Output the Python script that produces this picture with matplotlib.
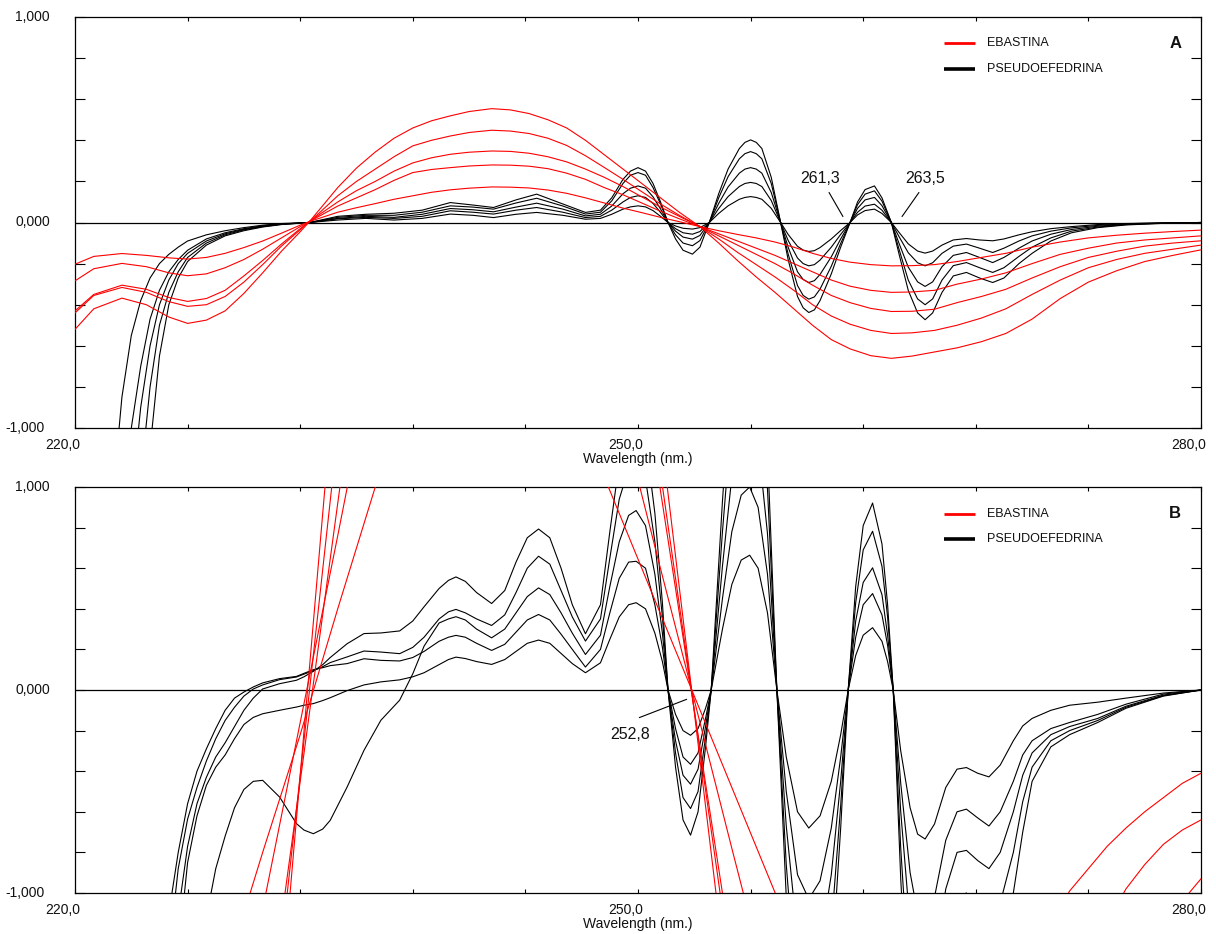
import numpy as np
import matplotlib
matplotlib.use("Agg")
import matplotlib.pyplot as plt
from matplotlib.transforms import blended_transform_factory, offset_copy

plt.rcParams.update({
    "font.family": ["Liberation Sans", "DejaVu Sans"],
    "font.size": 10,
})

RED = "#FF0000"
BLACK = "#000000"

# ── panel A : pseudoefedrina (black) ───────────────────────────────────────
WL_A_PSE = [221.5, 222.0, 222.5, 223.0, 223.5, 224.0, 224.5, 225.0, 225.5, 226.0,
            227.0, 228.0, 229.0, 230.0, 231.0, 232.5,
            234.0, 235.5, 237.0, 238.5, 240.0, 241.2, 242.3, 243.5, 244.6, 246.0, 247.2,
            248.0, 248.6, 249.2, 249.6, 250.0, 250.4, 250.8, 251.2, 251.6, 252.0,
            252.4, 252.9, 253.3, 253.8, 254.3, 254.8, 255.4, 255.7, 256.0, 256.3,
            256.6, 257.1, 257.6, 258.0, 258.5, 258.8, 259.1, 259.4, 259.7, 260.3,
            260.8, 261.3, 261.7, 262.1, 262.6, 263.0, 263.5, 263.9, 264.4, 264.9,
            265.3, 265.7, 266.2, 266.8, 267.5, 268.2, 268.9, 269.5, 270.3, 271.0,
            272.0, 273.1, 274.5, 276.0, 278.0, 280.0]

PSE_A1 = [-2.2, -1.35, -0.85, -0.55, -0.38, -0.27, -0.2, -0.155, -0.12, -0.09,
          -0.06, -0.04, -0.025, -0.013, -0.005, 0.0,
          0.03, 0.04, 0.045, 0.06, 0.097, 0.085, 0.073, 0.11, 0.138, 0.09, 0.049,
          0.06, 0.12, 0.21, 0.25, 0.267, 0.25, 0.19, 0.10, 0.0, -0.08,
          -0.135, -0.154, -0.12, 0.0, 0.14, 0.26, 0.36, 0.39, 0.402, 0.39,
          0.36, 0.22, 0.0, -0.18, -0.36, -0.415, -0.438, -0.425, -0.38, -0.25,
          -0.12, 0.0, 0.1, 0.16, 0.178, 0.12, 0.0, -0.15, -0.33, -0.44,
          -0.473, -0.44, -0.34, -0.26, -0.243, -0.27, -0.292, -0.27, -0.2, -0.15,
          -0.09, -0.05, -0.025, -0.012, -0.004, 0.0]
PSE_A2 = [-3.0, -2.2, -1.5, -1.0, -0.7, -0.47, -0.33, -0.24, -0.18, -0.135,
          -0.08, -0.05, -0.03, -0.016, -0.007, 0.0,
          0.025, 0.035, 0.035, 0.05, 0.081, 0.075, 0.065, 0.095, 0.118, 0.08, 0.041,
          0.05, 0.105, 0.19, 0.23, 0.243, 0.23, 0.17, 0.09, 0.0, -0.06,
          -0.1, -0.113, -0.088, 0.0, 0.12, 0.223, 0.31, 0.335, 0.345, 0.335,
          0.31, 0.19, 0.0, -0.153, -0.307, -0.355, -0.373, -0.362, -0.324, -0.213,
          -0.102, 0.0, 0.087, 0.138, 0.154, 0.104, 0.0, -0.127, -0.28, -0.372,
          -0.40, -0.372, -0.28, -0.21, -0.195, -0.22, -0.243, -0.22, -0.165, -0.12,
          -0.075, -0.042, -0.022, -0.01, -0.003, 0.0]
PSE_A3 = [-3.5, -2.8, -2.0, -1.35, -0.9, -0.6, -0.4, -0.28, -0.2, -0.15,
          -0.09, -0.055, -0.033, -0.018, -0.008, 0.0,
          0.02, 0.03, 0.025, 0.04, 0.068, 0.062, 0.052, 0.075, 0.094, 0.065, 0.032,
          0.04, 0.08, 0.14, 0.167, 0.178, 0.167, 0.125, 0.066, 0.0, -0.042,
          -0.071, -0.081, -0.063, 0.0, 0.093, 0.173, 0.24, 0.26, 0.267, 0.26,
          0.24, 0.146, 0.0, -0.12, -0.24, -0.277, -0.292, -0.283, -0.253, -0.167,
          -0.08, 0.0, 0.069, 0.11, 0.122, 0.082, 0.0, -0.099, -0.217, -0.289,
          -0.311, -0.289, -0.215, -0.16, -0.146, -0.17, -0.195, -0.17, -0.125, -0.09,
          -0.057, -0.034, -0.018, -0.008, -0.003, 0.0]
PSE_A4 = [-4.0, -3.3, -2.5, -1.8, -1.25, -0.8, -0.5, -0.34, -0.24, -0.17,
          -0.1, -0.06, -0.036, -0.02, -0.009, 0.0,
          0.018, 0.025, 0.02, 0.03, 0.057, 0.05, 0.041, 0.06, 0.073, 0.05, 0.024,
          0.03, 0.06, 0.1, 0.122, 0.13, 0.122, 0.093, 0.049, 0.0, -0.03,
          -0.05, -0.057, -0.044, 0.0, 0.068, 0.126, 0.175, 0.19, 0.195, 0.19,
          0.175, 0.107, 0.0, -0.087, -0.173, -0.2, -0.211, -0.205, -0.183, -0.12,
          -0.058, 0.0, 0.05, 0.08, 0.089, 0.06, 0.0, -0.067, -0.147, -0.196,
          -0.211, -0.196, -0.15, -0.115, -0.105, -0.125, -0.146, -0.125, -0.09, -0.065,
          -0.042, -0.026, -0.014, -0.006, -0.002, 0.0]
PSE_A5 = [-4.5, -3.8, -3.0, -2.3, -1.6, -1.1, -0.65, -0.4, -0.27, -0.19,
          -0.11, -0.065, -0.04, -0.022, -0.01, 0.0,
          0.012, 0.02, 0.012, 0.02, 0.041, 0.035, 0.024, 0.04, 0.049, 0.035, 0.016,
          0.02, 0.04, 0.065, 0.076, 0.081, 0.076, 0.058, 0.03, 0.0, -0.017,
          -0.028, -0.032, -0.025, 0.0, 0.044, 0.081, 0.113, 0.122, 0.126, 0.122,
          0.113, 0.069, 0.0, -0.058, -0.116, -0.134, -0.141, -0.137, -0.122, -0.08,
          -0.039, 0.0, 0.037, 0.058, 0.065, 0.044, 0.0, -0.047, -0.104, -0.139,
          -0.149, -0.139, -0.11, -0.085, -0.078, -0.085, -0.089, -0.08, -0.06, -0.045,
          -0.03, -0.02, -0.01, -0.005, -0.002, 0.0]

# ── panel A : ebastina (red) ───────────────────────────────────────────────
WL_A_EBA = [220.0, 221.0, 222.5, 223.8, 225.0, 226.0, 227.0, 228.0, 229.0, 230.0,
            231.0, 232.0, 232.5, 233.0, 234.0, 235.0, 236.0, 237.0, 238.0, 239.0,
            240.0, 241.0, 242.2, 243.2, 244.2, 245.2, 246.2, 247.2, 248.2, 249.2,
            250.2, 251.2, 252.2, 253.3, 254.3, 255.3, 256.3, 257.3, 258.3, 259.3,
            260.3, 261.3, 262.4, 263.5, 264.6, 265.8, 267.0, 268.3, 269.6, 271.0,
            272.5, 274.0, 275.5, 277.0, 278.5, 280.0]
EBA_A1 = [-0.203, -0.165, -0.151, -0.16, -0.172, -0.178, -0.17, -0.15, -0.122, -0.09,
          -0.052, -0.013, 0.005, 0.02, 0.05, 0.072, 0.092, 0.113, 0.13, 0.147,
          0.159, 0.167, 0.173, 0.172, 0.168, 0.158, 0.142, 0.12, 0.095, 0.07,
          0.048, 0.025, 0.004, -0.02, -0.04, -0.058, -0.075, -0.095, -0.12, -0.15,
          -0.175, -0.193, -0.205, -0.211, -0.21, -0.205, -0.19, -0.17, -0.15, -0.12,
          -0.095, -0.075, -0.062, -0.052, -0.044, -0.037]
EBA_A2 = [-0.284, -0.225, -0.199, -0.215, -0.245, -0.259, -0.25, -0.22, -0.18, -0.13,
          -0.075, -0.02, 0.005, 0.03, 0.08, 0.12, 0.16, 0.205, 0.243, 0.258,
          0.267, 0.275, 0.28, 0.279, 0.274, 0.262, 0.24, 0.21, 0.17, 0.135,
          0.095, 0.055, 0.018, -0.02, -0.055, -0.09, -0.125, -0.16, -0.2, -0.24,
          -0.28, -0.31, -0.33, -0.34, -0.338, -0.33, -0.3, -0.275, -0.245, -0.2,
          -0.155, -0.125, -0.1, -0.085, -0.075, -0.065]
EBA_A3 = [-0.43, -0.35, -0.305, -0.325, -0.365, -0.384, -0.37, -0.33, -0.26, -0.185,
          -0.105, -0.03, 0.005, 0.037, 0.1, 0.155, 0.2, 0.25, 0.29, 0.315,
          0.332, 0.342, 0.348, 0.346, 0.337, 0.32, 0.295, 0.26, 0.22, 0.175,
          0.125, 0.075, 0.03, -0.02, -0.065, -0.11, -0.155, -0.2, -0.25, -0.305,
          -0.355, -0.39, -0.418, -0.433, -0.432, -0.422, -0.39, -0.36, -0.325, -0.27,
          -0.215, -0.17, -0.14, -0.115, -0.1, -0.089]
EBA_A4 = [-0.44, -0.355, -0.316, -0.34, -0.385, -0.408, -0.40, -0.36, -0.29, -0.205,
          -0.115, -0.035, 0.005, 0.045, 0.13, 0.2, 0.26, 0.32, 0.373, 0.40,
          0.421, 0.438, 0.449, 0.445, 0.433, 0.41, 0.375, 0.325, 0.268, 0.21,
          0.15, 0.09, 0.035, -0.02, -0.08, -0.145, -0.205, -0.265, -0.33, -0.4,
          -0.455, -0.495, -0.525, -0.54, -0.537, -0.525, -0.5, -0.465, -0.42, -0.35,
          -0.28, -0.22, -0.18, -0.15, -0.13, -0.11]
EBA_A5 = [-0.52, -0.42, -0.368, -0.40, -0.46, -0.491, -0.475, -0.43, -0.345, -0.245,
          -0.14, -0.045, 0.005, 0.06, 0.17, 0.265, 0.343, 0.41, 0.46, 0.495,
          0.519, 0.54, 0.554, 0.548, 0.53, 0.50, 0.46, 0.40, 0.33, 0.26,
          0.19, 0.12, 0.05, -0.02, -0.1, -0.185, -0.265, -0.34, -0.42, -0.50,
          -0.57, -0.615, -0.648, -0.661, -0.65, -0.63, -0.61, -0.58, -0.54, -0.47,
          -0.37, -0.29, -0.235, -0.19, -0.16, -0.133]

# ── panel B : pseudoefedrina (black) ───────────────────────────────────────
WL_B_PSE = [225.0, 225.5, 226.0, 226.5, 227.0, 227.5, 228.0, 228.5, 229.0, 229.5,
            230.0, 230.9, 231.8, 232.2, 232.7, 233.2, 233.6, 234.5, 235.4, 236.3,
            237.3, 238.0, 238.6, 239.4, 239.9, 240.3, 240.8, 241.4, 242.2, 242.9,
            243.5, 244.1, 244.7, 245.3, 245.9, 246.5, 247.2,
            248.0, 248.5, 249.0, 249.5, 249.9, 250.4, 250.9, 251.3, 251.6, 252.0,
            252.4, 252.8, 253.2, 253.6, 253.9, 254.5, 255.0, 255.5, 255.95, 256.4,
            256.9, 257.4, 257.9, 258.5, 259.1, 259.7, 260.3, 260.8, 261.2, 261.6,
            262.0, 262.5, 263.0, 263.3, 263.6, 264.0, 264.5, 264.9, 265.3, 265.8,
            266.4, 267.0, 267.5, 268.1, 268.7,
            269.3, 270.0, 270.5, 271.0, 272.0, 273.0, 274.5, 276.0, 278.0, 280.0]

PSE_B1 = [-1.5, -1.1, -0.77, -0.56, -0.43, -0.33, -0.26, -0.18, -0.1, -0.04,
          0.005, 0.031, 0.048, 0.065, 0.092, 0.125, 0.16, 0.228, 0.278, 0.281,
          0.291, 0.34, 0.41, 0.5, 0.54, 0.557, 0.535, 0.48, 0.426, 0.49,
          0.63, 0.75, 0.793, 0.75, 0.6, 0.42, 0.277,
          0.42, 0.78, 1.12, 1.3, 1.33, 1.24, 0.87, 0.43, 0.0, -0.38,
          -0.64, -0.715, -0.6, -0.28, 0.0, 0.93, 1.61, 1.98, 2.06, 1.86,
          1.18, 0.0, -1.02, -1.86, -2.1, -1.92, -1.4, -0.68, 0.0, 0.51,
          0.81, 0.921, 0.72, 0.42, 0.0, -0.93, -1.8, -2.2, -2.27, -2.05,
          -1.49, -1.21, -1.2, -1.27, -1.33,
          -1.25, -1.0, -0.7, -0.45, -0.28, -0.22, -0.16, -0.09, -0.03, 0.0]
PSE_B2 = [-1.3, -0.88, -0.636, -0.48, -0.35, -0.24, -0.15, -0.085, -0.03, 0.005,
          0.025, 0.051, 0.064, 0.078, 0.095, 0.115, 0.135, 0.163, 0.192, 0.187,
          0.179, 0.21, 0.26, 0.35, 0.385, 0.397, 0.38, 0.35, 0.318, 0.37,
          0.48, 0.6, 0.659, 0.62, 0.49, 0.36, 0.241,
          0.35, 0.65, 0.94, 1.09, 1.12, 1.04, 0.73, 0.36, 0.0, -0.31,
          -0.53, -0.584, -0.5, -0.23, 0.0, 0.78, 1.35, 1.66, 1.73, 1.56,
          0.99, 0.0, -0.86, -1.56, -1.77, -1.61, -1.17, -0.57, 0.0, 0.43,
          0.69, 0.782, 0.61, 0.36, 0.0, -0.78, -1.5, -1.85, -1.9, -1.72,
          -1.25, -1.02, -1.0, -1.07, -1.12,
          -1.05, -0.8, -0.55, -0.38, -0.25, -0.2, -0.15, -0.085, -0.028, 0.0]
PSE_B3 = [-3.0, -2.5, -2.0, -1.55, -1.12, -0.88, -0.72, -0.58, -0.49, -0.45,
          -0.445, -0.527, -0.658, -0.69, -0.708, -0.685, -0.642, -0.478, -0.297, -0.149,
          -0.05, 0.08, 0.216, 0.33, 0.35, 0.361, 0.345, 0.3, 0.257, 0.3,
          0.38, 0.46, 0.503, 0.47, 0.38, 0.28, 0.175,
          0.27, 0.51, 0.73, 0.86, 0.884, 0.81, 0.57, 0.28, 0.0, -0.25,
          -0.42, -0.464, -0.39, -0.18, 0.0, 0.61, 1.05, 1.3, 1.33, 1.22,
          0.77, 0.0, -0.67, -1.22, -1.38, -1.26, -0.91, -0.45, 0.0, 0.34,
          0.53, 0.602, 0.47, 0.27, 0.0, -0.6, -1.16, -1.43, -1.47, -1.33,
          -0.98, -0.8, -0.79, -0.84, -0.88,
          -0.8, -0.6, -0.42, -0.31, -0.22, -0.18, -0.14, -0.08, -0.025, 0.0]
PSE_B4 = [-1.1, -0.8, -0.56, -0.4, -0.29, -0.19, -0.1, -0.04, -0.01, 0.015,
          0.035, 0.056, 0.067, 0.082, 0.1, 0.11, 0.12, 0.13, 0.154, 0.146,
          0.143, 0.16, 0.19, 0.24, 0.26, 0.269, 0.26, 0.23, 0.195, 0.225,
          0.285, 0.345, 0.372, 0.345, 0.275, 0.2, 0.113,
          0.2, 0.38, 0.55, 0.63, 0.634, 0.6, 0.42, 0.21, 0.0, -0.19,
          -0.33, -0.366, -0.31, -0.14, 0.0, 0.45, 0.78, 0.96, 1.0, 0.9,
          0.57, 0.0, -0.5, -0.91, -1.03, -0.94, -0.68, -0.33, 0.0, 0.26,
          0.42, 0.475, 0.37, 0.22, 0.0, -0.46, -0.9, -1.1, -1.14, -1.02,
          -0.74, -0.6, -0.587, -0.63, -0.67,
          -0.6, -0.45, -0.32, -0.25, -0.19, -0.16, -0.12, -0.07, -0.02, 0.0]
PSE_B5 = [-1.9, -1.3, -0.85, -0.62, -0.47, -0.38, -0.32, -0.24, -0.17, -0.135,
          -0.117, -0.1, -0.084, -0.075, -0.067, -0.052, -0.038, -0.003, 0.025, 0.04,
          0.05, 0.065, 0.085, 0.125, 0.15, 0.162, 0.155, 0.14, 0.126, 0.15,
          0.19, 0.23, 0.246, 0.23, 0.18, 0.13, 0.085,
          0.134, 0.25, 0.36, 0.42, 0.43, 0.40, 0.28, 0.14, 0.0, -0.12,
          -0.2, -0.223, -0.19, -0.09, 0.0, 0.3, 0.52, 0.64, 0.664, 0.6,
          0.38, 0.0, -0.33, -0.6, -0.68, -0.62, -0.45, -0.22, 0.0, 0.17,
          0.27, 0.307, 0.24, 0.14, 0.0, -0.3, -0.58, -0.71, -0.734, -0.66,
          -0.48, -0.39, -0.382, -0.41, -0.428,
          -0.37, -0.25, -0.177, -0.14, -0.1, -0.075, -0.06, -0.04, -0.015, 0.0]

# ── panel B : ebastina (red), three visible stretches ──────────────────────
WL_B_EBA_L = [228.0, 230.0, 232.0, 234.0, 236.0, 238.0]
EBA_BL1 = [-1.4, -0.8, -0.22, 0.4, 1.0, 1.65]
EBA_BL2 = [-2.0, -1.08, -0.16, 0.76, 1.7, 2.6]
EBA_BL3 = [-3.17, -1.81, -0.45, 0.92, 2.28, 3.6]
EBA_BL4 = [-3.79, -2.1, -0.42, 1.27, 2.96, 4.6]
EBA_BL5 = [-4.8, -2.57, -0.42, 1.73, 3.88, 6.0]

WL_B_EBA_M = [247.0, 249.0, 251.0, 253.0, 255.0, 257.0, 259.0]
EBA_BM1 = [1.32, 0.87, 0.42, -0.03, -0.48, -0.93, -1.38]
EBA_BM2 = [2.13, 1.4, 0.67, -0.05, -0.78, -1.5, -2.23]
EBA_BM3 = [3.5, 2.3, 1.1, -0.1, -1.3, -2.5, -3.7]
EBA_BM4 = [3.82, 2.51, 1.2, -0.1, -1.41, -2.72, -4.03]
EBA_BM5 = [4.51, 2.97, 1.43, -0.11, -1.65, -3.18, -4.72]

WL_B_EBA_R = [272.0, 273.0, 274.0, 275.0, 276.0, 277.0, 278.0, 279.0, 280.0]
EBA_BR1 = [-1.15, -0.99, -0.88, -0.77, -0.68, -0.6, -0.53, -0.46, -0.41]
EBA_BR2 = [-1.75, -1.5, -1.32, -1.15, -0.98, -0.86, -0.76, -0.69, -0.64]
EBA_BR3 = [-2.6, -2.3, -2.0, -1.75, -1.55, -1.38, -1.2, -1.04, -0.93]

X_LABELS = [(220, "220,0"), (250, "250,0"), (280, "280,0")]
Y_LABELS = [(1.0, "1,000"), (0.0, "0,000"), (-1.0, "-1,000")]
LEGEND = [("EBASTINA", RED, 2.0), ("PSEUDOEFEDRINA", BLACK, 2.6)]

FIG_W, FIG_H = 1216, 934
fig = plt.figure(figsize=(FIG_W / 100, FIG_H / 100), dpi=100)


def px_axes(left, top, right, bottom):
    return fig.add_axes([left / FIG_W, 1 - bottom / FIG_H,
                         (right - left) / FIG_W, (bottom - top) / FIG_H])


def style(ax, panel, leg_y):
    ax.set_xlim(220, 280)
    ax.set_ylim(-1, 1)
    ax.set_xticks(np.arange(220, 281, 6))
    ax.set_yticks(np.round(np.arange(-1, 1.01, 0.2), 1))
    ax.tick_params(labelbottom=False, labelleft=False, direction="in",
                   top=True, right=True, width=0.8, color=BLACK)
    ax.tick_params(axis="x", length=3)
    ax.tick_params(axis="y", length=7)
    for sp in ax.spines.values():
        sp.set_linewidth(0.9)
        sp.set_color(BLACK)
    ax.axhline(0, color=BLACK, lw=0.9, zorder=1)

    tx = blended_transform_factory(ax.transData, ax.transAxes)
    for xv, lab in X_LABELS:
        ax.text(xv, 0, lab, transform=offset_copy(tx, fig, x=-12, y=-17, units="dots"),
                ha="center", va="center", fontsize=10, color="#111111")
    ax.text(250, 0, "Wavelength (nm.)",
            transform=offset_copy(tx, fig, x=0, y=-31, units="dots"),
            ha="center", va="center", fontsize=10, color="#111111")
    ty = blended_transform_factory(ax.transAxes, ax.transData)
    for yv, lab in Y_LABELS:
        dx = -30 if yv < 0 else -25
        ax.text(0, yv, lab, transform=offset_copy(ty, fig, x=dx, y=0, units="dots"),
                ha="right", va="center", fontsize=10, color="#111111")

    for (lab, col, lw), ly in zip(LEGEND, leg_y):
        ax.plot([0.772, 0.799], [ly, ly], color=col, lw=lw, transform=ax.transAxes,
                solid_capstyle="butt")
        ax.text(0.81, ly, lab, transform=ax.transAxes, ha="left", va="center",
                fontsize=9, color="#111111")
    ax.text(0.977, leg_y[0], panel, transform=ax.transAxes, ha="center", va="center",
            fontsize=12, fontweight="bold", color="#111111")


LW = 0.8

# ══════════════════════════════════════════════════════════════════════════
# Panel A
# ══════════════════════════════════════════════════════════════════════════
ax_a = px_axes(75, 17, 1201, 428)
for ys in [PSE_A1, PSE_A2, PSE_A3, PSE_A4, PSE_A5]:
    ax_a.plot(WL_A_PSE, ys, color=BLACK, lw=LW, zorder=2)
for ys in [EBA_A1, EBA_A2, EBA_A3, EBA_A4, EBA_A5]:
    ax_a.plot(WL_A_EBA, ys, color=RED, lw=LW, zorder=3)
style(ax_a, "A", [0.9367, 0.8735])

for lab, txt_xy, l0, l1 in [("261,3", (259.70, 0.214), (260.18, 0.146), (260.92, 0.029)),
                            ("263,5", (265.29, 0.214), (264.97, 0.146), (264.07, 0.029))]:
    ax_a.text(*txt_xy, lab, ha="center", va="center", fontsize=11.5, color="#111111")
    ax_a.annotate("", xy=l1, xytext=l0,
                  arrowprops=dict(arrowstyle="-", lw=0.8, color=BLACK,
                                  shrinkA=0, shrinkB=0))

# ══════════════════════════════════════════════════════════════════════════
# Panel B
# ══════════════════════════════════════════════════════════════════════════
ax_b = px_axes(75, 487, 1201, 893)
for ys in [PSE_B1, PSE_B2, PSE_B3, PSE_B4, PSE_B5]:
    ax_b.plot(WL_B_PSE, ys, color=BLACK, lw=LW, zorder=2)
for wl, group in [(WL_B_EBA_L, [EBA_BL1, EBA_BL2, EBA_BL3, EBA_BL4, EBA_BL5]),
                  (WL_B_EBA_M, [EBA_BM1, EBA_BM2, EBA_BM3, EBA_BM4, EBA_BM5]),
                  (WL_B_EBA_R, [EBA_BR1, EBA_BR2, EBA_BR3])]:
    for ys in group:
        ax_b.plot(wl, ys, color=RED, lw=LW, zorder=3)
style(ax_b, "B", [0.934, 0.873])

ax_b.text(249.56, -0.218, "252,8", ha="center", va="center", fontsize=11.5,
          color="#111111")
ax_b.annotate("", xy=(252.59, -0.046), xytext=(250.07, -0.136),
              arrowprops=dict(arrowstyle="-", lw=0.8, color=BLACK,
                              shrinkA=0, shrinkB=0))

fig.savefig("out.png", dpi=100, facecolor="white")
